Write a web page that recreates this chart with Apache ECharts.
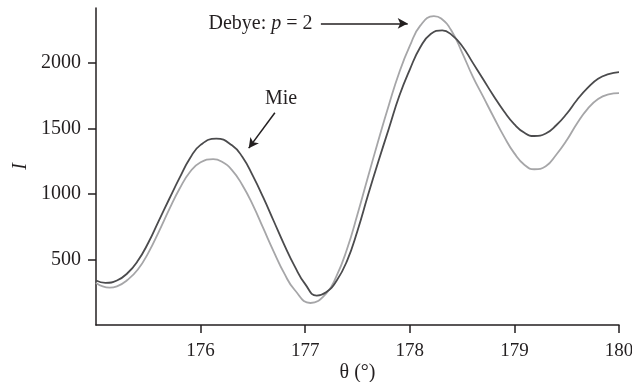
<!DOCTYPE html>
<html>
<head>
<meta charset="utf-8">
<script src="https://cdn.jsdelivr.net/npm/echarts@6/dist/echarts.min.js"></script>
<style>
  html, body { margin: 0; padding: 0; background: #fff; }
  #main { width: 632px; height: 382px; }
</style>
</head>
<body>
<div id="main"></div>
<script>
// Mie curve (dark line): scattering angle (deg) and intensity
var mieTheta = [
  175.0, 175.09, 175.2, 175.3, 175.4, 175.5, 175.6, 175.7, 175.8, 175.9,
  176.0, 176.15, 176.3, 176.4, 176.5, 176.6, 176.7, 176.8, 176.9, 177.0,
  177.11, 177.2, 177.3, 177.4, 177.5, 177.6, 177.7, 177.8, 177.9, 178.0,
  178.1, 178.2, 178.31, 178.4, 178.5, 178.6, 178.7, 178.8, 178.9, 179.0,
  179.1, 179.19, 179.3, 179.4, 179.5, 179.6, 179.7, 179.8, 179.9, 180.0
];
var mieI = [
  340, 322, 340, 395, 490, 628, 795, 962, 1125, 1275,
  1375, 1423, 1372, 1282, 1138, 972, 792, 612, 448, 312,
  225, 250, 338, 490, 720, 990, 1250, 1500, 1750, 1950,
  2120, 2222, 2249, 2215, 2130, 2005, 1878, 1750, 1632, 1532,
  1465, 1443, 1462, 1525, 1613, 1720, 1810, 1880, 1915, 1930
];

// Debye series p = 2 (light line)
var debyeTheta = [
  175.0, 175.13, 175.2, 175.3, 175.4, 175.5, 175.6, 175.7, 175.8, 175.9,
  176.0, 176.12, 176.2, 176.3, 176.4, 176.5, 176.6, 176.7, 176.8, 176.9,
  177.05, 177.2, 177.3, 177.4, 177.5, 177.6, 177.7, 177.8, 177.9, 178.0,
  178.1, 178.23, 178.3, 178.4, 178.5, 178.6, 178.7, 178.8, 178.9, 179.0,
  179.1, 179.19, 179.3, 179.4, 179.5, 179.6, 179.7, 179.8, 179.9, 180.0
];
var debyeI = [
  320, 285, 295, 343, 424, 551, 711, 882, 1042, 1170,
  1242, 1266, 1248, 1183, 1067, 915, 737, 559, 394, 267,
  168, 240, 375, 580, 845, 1130, 1410, 1680, 1930, 2130,
  2285, 2358, 2340, 2245, 2080, 1900, 1745, 1590, 1440, 1310,
  1220, 1189, 1212, 1300, 1410, 1540, 1650, 1725, 1760, 1770
];

// Tick labels
var xTicks = [176, 177, 178, 179, 180];
var yTicks = [500, 1000, 1500, 2000];

var serif = '"Liberation Serif", "DejaVu Serif", serif';
var ink = '#231f20';

function pairs(xs, ys) {
  return xs.map(function (x, i) { return [x, ys[i]]; });
}

var myChart = echarts.init(document.getElementById('main'));

var option = {
  animation: false,
  grid: { left: 96, right: 13, top: 8, bottom: 57, outerBoundsMode: 'none' },
  xAxis: {
    type: 'value',
    min: 175,
    max: 180,
    interval: 1,
    name: 'θ (°)',
    nameLocation: 'middle',
    nameGap: 38,
    nameMoveOverlap: false,
    nameTextStyle: { fontFamily: serif, fontSize: 20, color: ink },
    axisLine: { lineStyle: { color: ink, width: 1.5 } },
    axisTick: { show: true, length: 8, customValues: xTicks, lineStyle: { color: ink, width: 1.5 } },
    axisLabel: { customValues: xTicks, margin: 17, fontFamily: serif, fontSize: 19, color: ink },
    splitLine: { show: false }
  },
  yAxis: {
    type: 'value',
    min: 0,
    max: 2420,
    name: 'I',
    nameLocation: 'middle',
    nameGap: 65,
    nameMoveOverlap: false,
    nameTextStyle: { fontFamily: serif, fontSize: 20, fontStyle: 'italic', color: ink },
    axisLine: { show: true, lineStyle: { color: ink, width: 1.5 } },
    axisTick: { show: true, length: 8, customValues: yTicks, lineStyle: { color: ink, width: 1.5 } },
    axisLabel: {
      customValues: yTicks,
      margin: 15,
      fontFamily: serif,
      fontSize: 20,
      color: ink,
      formatter: function (v) { return String(v); }
    },
    splitLine: { show: false }
  },
  series: [
    {
      name: 'Debye: p = 2',
      type: 'line',
      data: pairs(debyeTheta, debyeI),
      smooth: 0.5,
      showSymbol: false,
      lineStyle: { color: '#a6a6a8', width: 1.8 },
      z: 2
    },
    {
      name: 'Mie',
      type: 'line',
      data: pairs(mieTheta, mieI),
      smooth: 0.5,
      showSymbol: false,
      lineStyle: { color: '#4b4b4d', width: 1.8 },
      z: 3,
      markLine: {
        silent: true,
        symbol: ['none', 'arrow'],
        symbolSize: [8, 10],
        lineStyle: { color: ink, width: 1.5, type: 'solid' },
        label: { show: false },
        data: [
          [{ coord: [176.71, 1620] }, { coord: [176.46, 1350] }],
          [{ coord: [177.15, 2302] }, { coord: [177.98, 2302] }]
        ]
      }
    }
  ]
};

myChart.setOption(option);

// Text annotations placed through the chart's own coordinate system
var mieAt = myChart.convertToPixel({ gridIndex: 0 }, [176.77, 1725]);
var debyeAt = myChart.convertToPixel({ gridIndex: 0 }, [177.07, 2302]);

myChart.setOption({
  graphic: [
    {
      type: 'text',
      x: mieAt[0],
      y: mieAt[1],
      style: {
        text: 'Mie',
        font: '20px ' + serif,
        fill: ink,
        align: 'center',
        verticalAlign: 'middle'
      }
    },
    {
      type: 'text',
      x: debyeAt[0],
      y: debyeAt[1],
      style: {
        text: '{n|Debye: }{i|p}{n| = 2}',
        align: 'right',
        verticalAlign: 'middle',
        rich: {
          n: { fontFamily: serif, fontSize: 20, fill: ink },
          i: { fontFamily: serif, fontSize: 20, fontStyle: 'italic', fill: ink }
        }
      }
    }
  ]
});
</script>
</body>
</html>
